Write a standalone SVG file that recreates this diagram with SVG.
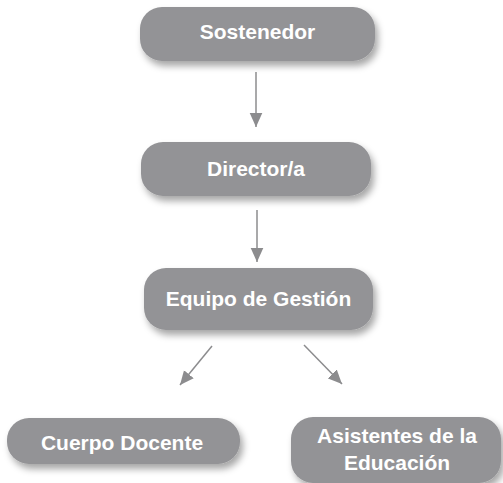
<svg xmlns="http://www.w3.org/2000/svg" width="503" height="483" viewBox="0 0 503 483">
<style>
.box{fill:#939396;filter:url(#sh)}
.lbl{font-family:"Liberation Sans",Arial,sans-serif;font-weight:bold;font-size:21px;fill:#ffffff;text-anchor:middle}
.conn{stroke:#8c8c8e;stroke-width:1.5;fill:none;marker-end:url(#ah)}
</style>
<defs>
<filter id="sh" x="-10%" y="-20%" width="130%" height="160%">
<feDropShadow dx="3" dy="5" stdDeviation="3.5" flood-color="#000" flood-opacity="0.35"/>
</filter>
<marker id="ah" viewBox="0 0 10 10" refX="10" refY="5" markerWidth="14" markerHeight="14" markerUnits="userSpaceOnUse" orient="auto">
<path d="M0,0.5 L10,5 L0,9.5 z" fill="#8c8c8e"/>
</marker>
</defs>
<g id="connectors">
<line class="conn" x1="256" y1="72" x2="256" y2="127"/>
<line class="conn" x1="257" y1="210" x2="257" y2="262"/>
<line class="conn" x1="212" y1="346" x2="180" y2="385"/>
<line class="conn" x1="304" y1="345" x2="342" y2="384"/>
</g>
<g id="sostenedor">
<rect class="box" x="140" y="7" width="235" height="54" rx="22"/>
<text class="lbl" x="257.5" y="39">Sostenedor</text>
</g>
<g id="director">
<rect class="box" x="141" y="142" width="230" height="54" rx="22"/>
<text class="lbl" x="256" y="176">Director/a</text>
</g>
<g id="equipo">
<rect class="box" x="144" y="268" width="229" height="62" rx="22"/>
<text class="lbl" x="258.5" y="306">Equipo de Gestión</text>
</g>
<g id="cuerpo">
<rect class="box" x="7" y="418" width="233" height="46" rx="22"/>
<text class="lbl" x="122" y="450">Cuerpo Docente</text>
</g>
<g id="asistentes">
<rect class="box" x="291" y="417" width="210" height="66" rx="22"/>
<text class="lbl" x="397" y="443">Asistentes de la</text>
<text class="lbl" x="397" y="470">Educación</text>
</g>
</svg>
